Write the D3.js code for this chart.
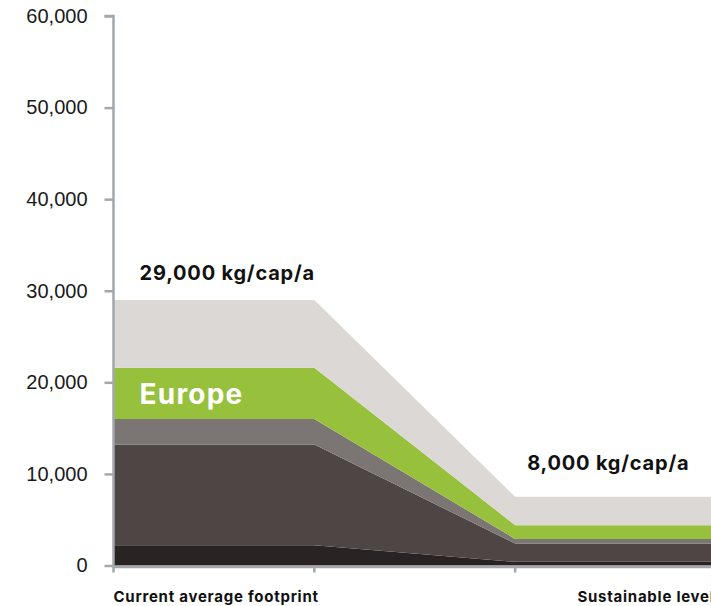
<!DOCTYPE html>
<html>
<head>
<meta charset="utf-8">
<script src="https://cdn.jsdelivr.net/npm/d3@7"></script>
<style>
  html, body { margin: 0; padding: 0; background: #fff; }
  svg { display: block; font-family: "Liberation Sans", Arial, sans-serif; }
</style>
</head>
<body>
<script>
// ---- data ----
const xPoints = [0, 1, 2, 3];               // step positions along the path
const categories = ["Current average footprint", "Sustainable level"];
const seriesNames = ["s1", "s2", "s3", "Europe", "s5"];
const s1 = [2200, 2200, 400, 400];
const s2 = [11000, 11000, 2000, 2000];
const s3 = [2800, 2800, 500, 500];
const europe = [5600, 5600, 1500, 1500];
const s5 = [7400, 7400, 3100, 3100];
const totals = ["29,000 kg/cap/a", "8,000 kg/cap/a"];
const yTicks = [0, 10000, 20000, 30000, 40000, 50000, 60000];
const colors = ["#2a2323", "#4e4545", "#7b7573", "#97c13c", "#dcd8d5"];

const W = 711, H = 606;
const svg = d3.select("body").append("svg").attr("width", W).attr("height", H);

const x = d3.scaleLinear().domain([0, 3]).range([113.5, 716]);
const y = d3.scaleLinear().domain([0, 60000]).range([565.5, 16]);

const rows = xPoints.map((p, i) => ({
  p, s1: s1[i], s2: s2[i], s3: s3[i], Europe: europe[i], s5: s5[i]
}));
const stack = d3.stack().keys(seriesNames)(rows);
const area = d3.area().x(d => x(d.data.p)).y0(d => y(d[0])).y1(d => y(d[1]));

svg.append("g").selectAll("path").data(stack).join("path")
  .attr("d", area)
  .attr("fill", (d, i) => colors[i]);

// y axis
const axisColor = "#a3a8ab";
const yAxis = d3.axisLeft(y).tickValues(yTicks).tickSize(9).tickPadding(17)
  .tickFormat(d3.format(","));
const gy = svg.append("g").attr("transform", `translate(${x(0)},0)`).call(yAxis);
gy.select(".domain").attr("stroke", axisColor).attr("stroke-width", 2.5)
  .attr("d", `M-9,${y(60000)}H0V${y(0) + 1.5}`);
gy.selectAll(".tick line").attr("stroke", axisColor).attr("stroke-width", 2.5);
gy.selectAll(".tick text").attr("fill", "#1a1a1a").attr("font-size", 20)
  .attr("font-family", "Liberation Sans, Arial, sans-serif");

// x axis
const gx = svg.append("g");
gx.append("line").attr("x1", x(0)).attr("x2", W).attr("y1", y(0) + 1.5).attr("y2", y(0) + 1.5)
  .attr("stroke", axisColor).attr("stroke-width", 2.5);
gx.selectAll("line.t").data([0, 1, 2]).join("line").attr("class", "t")
  .attr("x1", d => x(d)).attr("x2", d => x(d))
  .attr("y1", y(0) + 1.5).attr("y2", y(0) + 7)
  .attr("stroke", axisColor).attr("stroke-width", 2.5);

const boldFont = "Inter, 'Noto Sans', sans-serif";

// category labels
const catPos = [0, 2.31];
svg.selectAll("text.cat").data(categories).join("text").attr("class", "cat")
  .attr("x", (d, i) => x(catPos[i])).attr("y", 602)
  .attr("font-family", boldFont).attr("letter-spacing", 0.75)
  .attr("font-size", 15).attr("font-weight", "bold").attr("fill", "#111")
  .text(d => d);

// total labels
const totPos = [[0.13, 280], [2.06, 469.5]];
svg.selectAll("text.tot").data(totals).join("text").attr("class", "tot")
  .attr("x", (d, i) => x(totPos[i][0])).attr("y", (d, i) => totPos[i][1])
  .attr("font-family", boldFont).attr("letter-spacing", 0.8)
  .attr("font-size", 20).attr("font-weight", "bold").attr("fill", "#111")
  .text(d => d);

// series label
svg.append("text").attr("x", x(0.13)).attr("y", y((s1[0] + s2[0] + s3[0]) + europe[0] / 2) + 11)
  .attr("font-family", boldFont).attr("letter-spacing", 1.2)
  .attr("font-size", 28).attr("font-weight", "bold").attr("fill", "#fff")
  .text("Europe");
</script>
</body>
</html>
